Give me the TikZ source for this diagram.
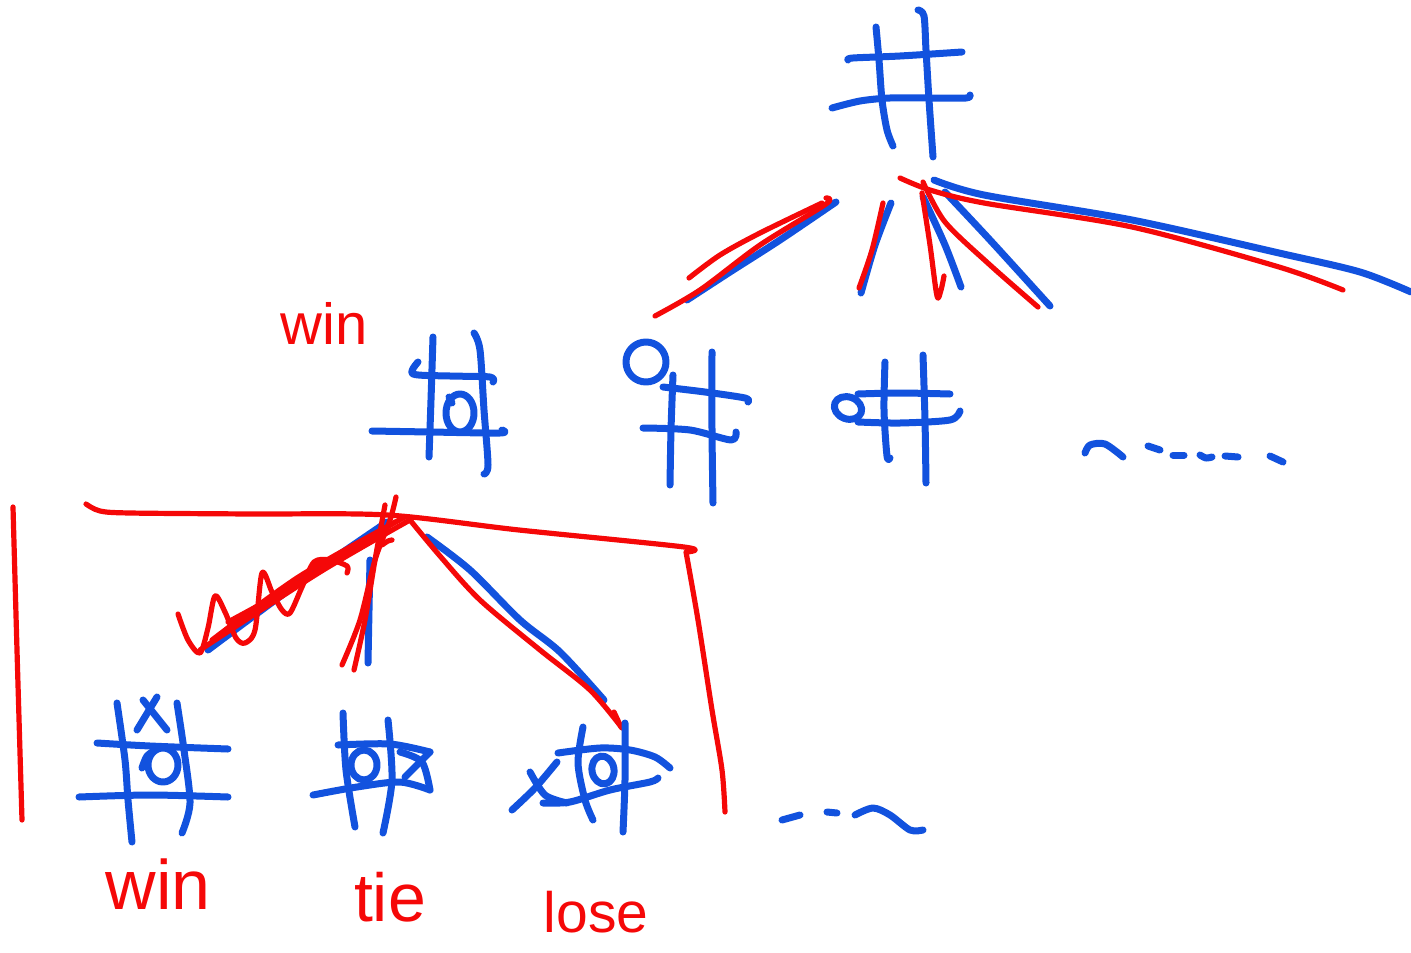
\documentclass[tikz,border=0pt]{standalone}
\usepackage{fontspec}
\setmainfont{Liberation Sans}
\definecolor{penblue}{RGB}{18,82,222}
\definecolor{penred}{RGB}{245,8,8}
\begin{document}
\begin{tikzpicture}[x=1pt,y=-1pt,
  blu/.style={draw=penblue,line width=7pt,line cap=round,line join=round},
  rd/.style={draw=penred,line width=5.2pt,line cap=round,line join=round},
  lbl/.style={text=penred,inner sep=0pt}]
\useasboundingbox (0,0) rectangle (1411,953);

% ---------- root board ----------
\draw[blu] plot[smooth] coordinates {(876,27)(879,60)(882,100)(887,130)(893,146)};
\draw[blu] plot[smooth] coordinates {(918,10)(924,16)(926,50)(929,100)(933,157)};
\draw[blu] plot[smooth] coordinates {(848,60)(853,58)(900,56)(962,52)};
\draw[blu] plot[smooth] coordinates {(832,108)(860,101)(890,98)(930,98)(966,98)(970,95)};

% ---------- edges from the root ----------
\draw[blu] plot[smooth] coordinates {(836,202)(780,240)(730,272)(687,300)};
\draw[rd] plot[smooth] coordinates {(826,198)(826,204)(760,245)(700,290)(655,316)};
\draw[rd] plot[smooth] coordinates {(822,203)(760,233)(720,255)(689,278)};
\draw[blu] plot[smooth] coordinates {(891,203)(875,245)(861,293)};
\draw[rd] plot[smooth] coordinates {(883,203)(872,250)(859,288)};
\draw[blu] plot[smooth] coordinates {(923,197)(945,245)(961,287)};
\draw[rd] plot[smooth] coordinates {(922,193)(930,245)(937,296)(941,290)(944,276)};
\draw[blu] plot[smooth] coordinates {(945,192)(990,240)(1050,306)};
\draw[rd] plot[smooth] coordinates {(923,182)(945,222)(990,265)(1038,307)};
\draw[blu] plot[smooth] coordinates {(934,180)(984,195)(1132,220)(1279,253)(1360,272)(1411,292)};
\draw[rd] plot[smooth] coordinates {(900,178)(930,190)(984,203)(1132,227)(1279,267)(1343,290)};

% ---------- first level: O in the centre ----------
\draw[blu] plot[smooth] coordinates {(433,337)(431,400)(429,457)};
\draw[blu] plot[smooth] coordinates {(474,333)(480,350)(484,410)(488,465)(484,474)};
\draw[blu] plot[smooth] coordinates {(418,362)(413,374)(450,376)(490,377)(493,382)};
\draw[blu] plot[smooth] coordinates {(372,431)(430,432)(500,433)(502,430)};
\draw[blu] (460,413) ellipse [x radius=14pt, y radius=19pt];
\draw[blu] (449,397) -- (452,403);
\node[lbl,font=\fontsize{58}{58}\selectfont] (winA) at (324,323) {win};

% ---------- first level: O in the corner ----------
\draw[blu] (646,362) circle [radius=20pt];
\draw[blu] plot[smooth] coordinates {(673,375)(671,430)(670,485)};
\draw[blu] plot[smooth] coordinates {(712,352)(712,430)(713,503)};
\draw[blu] plot[smooth] coordinates {(663,387)(705,392)(745,398)(748,402)};
\draw[blu] plot[smooth] coordinates {(643,428)(690,430)(731,440)(736,432)};

% ---------- first level: O on the edge ----------
\draw[blu,rotate around={-20:(848,408)}] (848,408) ellipse [x radius=14pt, y radius=11pt];
\draw[blu] plot[smooth] coordinates {(885,362)(884,410)(887,456)(890,458)};
\draw[blu] plot[smooth] coordinates {(923,355)(925,420)(926,483)};
\draw[blu] plot[smooth] coordinates {(858,394)(900,393)(950,394)};
\draw[blu] plot[smooth] coordinates {(858,422)(900,423)(950,420)(960,411)};

% and so on
\draw[blu] plot[smooth] coordinates {(1085,453)(1090,445)(1105,444)(1123,457)};
\draw[blu] (1148,446) -- (1160,450);
\draw[blu] (1173,455) -- (1184,455);
\draw[blu] plot[smooth] coordinates {(1200,455)(1206,458)(1212,457)};
\draw[blu] (1225,456) -- (1238,457);
\draw[blu] (1270,456) -- (1283,462);

% ---------- bracket round the second level ----------
\draw[rd] plot[smooth] coordinates {(13,507)(17,650)(22,820)};
\draw[rd] plot[smooth] coordinates {(86,504)(100,511)(130,513)(250,514)(387,515)(519,530)(684,547)(687,552)};
\draw[rd] plot[smooth] coordinates {(686,552)(698,620)(712,710)(722,770)(725,812)};

% ---------- edges from the O-centre board ----------
\draw[blu] plot[smooth] coordinates {(387,522)(300,582)(208,650)};
\draw[rd] plot[smooth] coordinates {(410,520)(320,572)(200,650)};
\draw[rd] plot[smooth] coordinates {(405,517)(300,576)(212,640)};
\draw[rd] plot[smooth] coordinates {(395,522)(300,582)(228,622)};
\draw[rd] plot[smooth] coordinates {(178,614)(188,640)(200,653)(208,628)(215,596)(225,612)(236,638)(245,643)(255,630)(262,573)(272,592)(282,610)(290,613)(302,587)(314,562)(330,560)(347,566)(347,573)};
\draw[rd] plot[smooth] coordinates {(382,545)(388,541)(392,540)};
\draw[blu] plot[smooth] coordinates {(370,560)(369,610)(368,663)};
\draw[rd] plot[smooth] coordinates {(396,497)(390,520)(375,560)(360,620)(342,665)};
\draw[rd] plot[smooth] coordinates {(385,505)(375,560)(365,620)(354,670)};
\draw[blu] plot[smooth] coordinates {(427,537)(470,570)(520,620)(560,652)(604,700)};
\draw[rd] plot[smooth] coordinates {(410,520)(440,556)(480,600)(540,650)(590,690)(622,728)};
\draw[rd] (614,712) -- (621,727);

% ---------- second level: X wins ----------
\draw[blu] plot[smooth] coordinates {(117,703)(125,760)(128,800)(132,842)};
\draw[blu] plot[smooth] coordinates {(177,703)(184,750)(190,803)(182,833)};
\draw[blu] plot[smooth] coordinates {(97,743)(150,746)(228,749)};
\draw[blu] plot[smooth] coordinates {(79,797)(150,795)(228,797)};
\draw[blu] (143,700) -- (167,730);
\draw[blu] (157,697) -- (137,730);
\draw[blu] (163,765) ellipse [x radius=15pt, y radius=17pt];
\draw[blu] plot[smooth] coordinates {(142,768)(147,756)(157,749)};
\node[lbl,font=\fontsize{70}{70}\selectfont] (winB) at (158,884) {win};

% ---------- second level: tie ----------
\draw[blu] plot[smooth] coordinates {(343,713)(346,770)(355,827)};
\draw[blu] plot[smooth] coordinates {(388,720)(392,780)(383,833)};
\draw[blu] plot[smooth] coordinates {(338,745)(390,744)(430,752)};
\draw[blu] plot[smooth] coordinates {(313,795)(357,787)(400,782)(430,790)};
\draw[blu] plot[smooth] coordinates {(400,752)(422,762)(430,790)};
\draw[blu] (405,777) -- (430,752);
\draw[blu] (364,765) ellipse [x radius=13pt, y radius=15pt];
\node[lbl,font=\fontsize{68}{68}\selectfont] (tie) at (390,897) {tie};

% ---------- second level: X loses ----------
\draw[blu] plot[smooth] coordinates {(583,727)(578,763)(585,800)(593,820)};
\draw[blu] plot[smooth] coordinates {(625,723)(625,780)(623,832)};
\draw[blu] plot[smooth] coordinates {(558,753)(600,748)(630,750)(655,757)(670,768)};
\draw[blu] plot[smooth] coordinates {(543,803)(570,802)(610,790)(650,782)(658,778)};
\draw[blu] plot[smooth] coordinates {(512,810)(535,788)(557,762)};
\draw[blu] plot[smooth] coordinates {(530,772)(545,795)(567,803)};
\draw[blu,rotate around={10:(603,770)}] (603,770) ellipse [x radius=11pt, y radius=14pt];
\node[lbl,font=\fontsize{57}{57}\selectfont] (lose) at (596,912) {lose};

% and so on
\draw[blu] (782,820) -- (800,815);
\draw[blu] (827,812) -- (837,813);
\draw[blu] plot[smooth] coordinates {(855,815)(873,808)(890,815)(910,830)(923,830)};
\end{tikzpicture}
\end{document}
